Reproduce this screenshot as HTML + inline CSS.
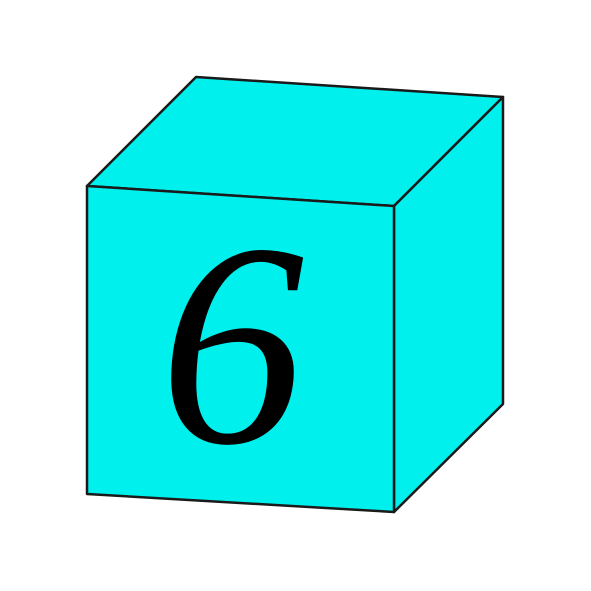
<!DOCTYPE html>
<html>
<head>
<meta charset="utf-8">
<style>
  html, body { margin: 0; padding: 0; background: #ffffff; }
  svg { display: block; }
</style>
</head>
<body>
<svg width="591" height="591" viewBox="0 0 591 591" xmlns="http://www.w3.org/2000/svg">
  <polygon points="87,186 196,77 503,97 394,206" fill="#00f0ee" stroke="#1a1a1a" stroke-width="2.5" stroke-linejoin="round"/>
  <polygon points="394,206 503,97 503,404 394,512" fill="#00f0ee" stroke="#1a1a1a" stroke-width="2.5" stroke-linejoin="round"/>
  <polygon points="87,186 394,206 394,512 87,494" fill="#00f0ee" stroke="#1a1a1a" stroke-width="2.5" stroke-linejoin="round"/>
  <text x="232" y="442" font-family="'Liberation Serif', serif" font-style="italic" font-size="290" text-anchor="middle" fill="#000000">6</text>
</svg>
</body>
</html>
